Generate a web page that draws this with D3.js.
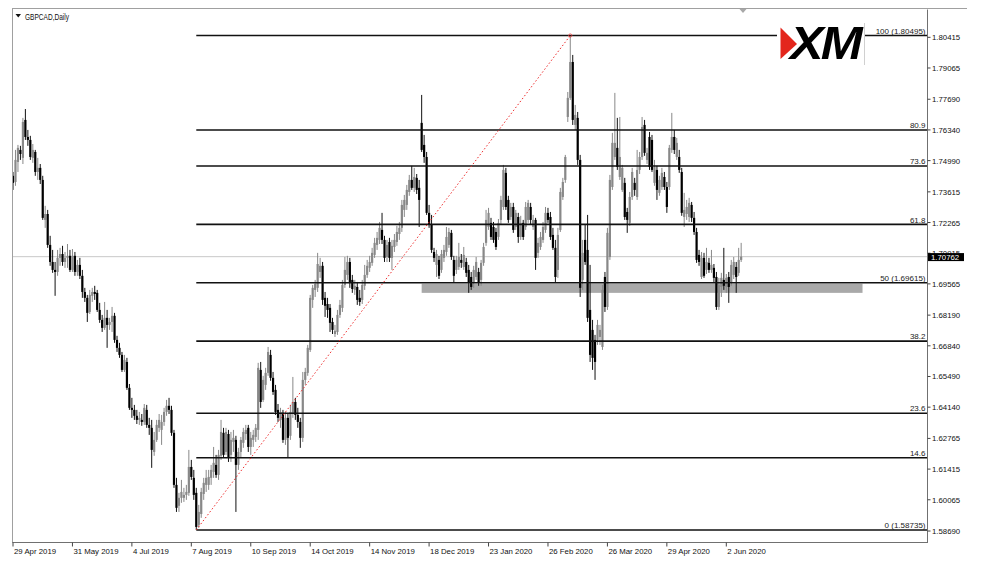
<!DOCTYPE html>
<html><head><meta charset="utf-8">
<script src="https://cdn.jsdelivr.net/npm/d3@7"></script>
<style>
html,body{margin:0;padding:0;background:#fff;}
svg{display:block;}
text{font-family:"Liberation Sans",Arial,sans-serif;}
</style></head><body>
<svg id="c" width="981" height="566"></svg>
<script>
// ---- DATA (GBPCAD daily, bar index 0 = 29 Apr 2019) ----
const opens=[1.7432,1.7405,1.7493,1.7546,1.7511,1.7678,1.7603,1.7590,1.7511,1.7537,1.7449,1.7467,1.7414,1.7238,1.7264,1.7128,1.7053,1.7018,1.7009,1.7071,1.7088,1.7053,1.7071,1.7080,1.7018,1.7080,1.7009,1.7040,1.6992,1.6921,
1.6895,1.6833,1.6904,1.6921,1.6917,1.6842,1.6798,1.6763,1.6807,1.6776,1.6789,1.6816,1.6710,1.6675,1.6644,1.6578,1.6613,1.6499,1.6411,1.6402,
1.6376,1.6358,1.6358,1.6349,1.6402,1.6336,1.6323,1.6217,1.6270,1.6323,1.6314,1.6349,1.6393,1.6420,1.6402,1.6301,1.6072,1.5980,1.6015,1.6015,
1.6028,1.6037,1.6151,1.6103,1.6037,1.5896,1.5944,1.6032,1.6072,1.6072,1.6103,1.6129,1.6160,1.6116,1.6200,1.6301,1.6217,1.6296,1.6204,1.6261,
1.6270,1.6160,1.6217,1.6257,1.6296,1.6323,1.6239,1.6270,1.6283,1.6314,1.6578,1.6446,1.6512,1.6565,1.6644,1.6543,1.6490,1.6402,1.6358,1.6389,
1.6270,1.6367,1.6288,1.6384,1.6437,1.6380,1.6349,1.6279,1.6534,1.6565,1.6666,1.6886,1.6930,1.6939,1.7009,1.7036,1.6895,1.6868,1.6851,1.6789,
1.6736,1.6745,1.6820,1.6851,1.6952,1.6996,1.7053,1.6974,1.6930,1.6943,1.6895,1.6886,1.6948,1.6996,1.7027,1.7049,1.7084,1.7128,1.7150,1.7194,
1.7150,1.7075,1.7141,1.7071,1.7119,1.7141,1.7176,1.7203,1.7282,1.7304,1.7361,1.7414,1.7379,1.7423,1.7379,1.7665,1.7568,1.7515,1.7269,1.7216,
1.7097,1.7040,1.7062,1.7018,1.7071,1.7097,1.7128,1.7181,1.7062,1.7018,1.7031,1.7062,1.7031,1.7053,1.7018,1.6987,1.6961,1.6987,1.7009,1.6974,
1.7049,1.7137,1.7207,1.7225,1.7207,1.7185,1.7163,1.7238,1.7295,1.7445,1.7326,1.7251,1.7295,1.7207,1.7251,1.7163,1.7225,1.7207,1.7238,1.7295,
1.7207,1.7238,1.7093,1.7119,1.7150,1.7194,1.7269,1.7251,1.7172,1.7115,1.7018,1.7194,1.7339,1.7414,1.7691,1.7775,1.7933,1.7656,1.7687,1.7502,
1.6974,1.7150,1.7106,1.6842,1.6754,1.6710,1.6710,1.6723,1.6679,1.6987,1.6855,1.7075,1.7383,1.7515,1.7555,1.7427,1.7370,1.7401,1.7273,1.7225,
1.7339,1.7401,1.7339,1.7458,1.7515,1.7656,1.7502,1.7603,1.7590,1.7401,1.7458,1.7357,1.7383,1.7427,1.7383,1.7383,1.7546,1.7603,1.7515,1.7515,
1.7449,1.7251,1.7264,1.7251,1.7304,1.7247,1.7185,1.7084,1.6987,1.7071,1.7018,1.7049,1.7018,1.7027,1.6987,1.6855,1.6943,1.6974,1.6943,1.6987,
1.6961,1.6996,1.7031,1.7005,1.7062];
const highs=[1.7449,1.7546,1.7568,1.7564,1.7687,1.7726,1.7634,1.7608,1.7572,1.7546,1.7511,1.7484,1.7432,1.7300,1.7282,1.7168,1.7106,1.7053,1.7106,1.7115,1.7124,1.7097,1.7132,1.7106,1.7110,1.7097,1.7062,1.7071,1.7018,1.6939,
1.6908,1.6930,1.6939,1.6948,1.6930,1.6873,1.6820,1.6877,1.6842,1.6807,1.6855,1.6829,1.6728,1.6697,1.6657,1.6644,1.6631,1.6516,1.6455,1.6424,
1.6402,1.6393,1.6384,1.6428,1.6424,1.6367,1.6358,1.6305,1.6358,1.6384,1.6380,1.6411,1.6446,1.6455,1.6420,1.6314,1.6103,1.6037,1.6094,1.6059,
1.6072,1.6226,1.6182,1.6138,1.6059,1.5984,1.6059,1.6103,1.6138,1.6138,1.6160,1.6239,1.6204,1.6226,1.6358,1.6323,1.6323,1.6314,1.6305,1.6314,
1.6288,1.6235,1.6283,1.6323,1.6336,1.6336,1.6305,1.6314,1.6340,1.6609,1.6613,1.6552,1.6587,1.6679,1.6666,1.6569,1.6512,1.6428,1.6411,1.6402,
1.6393,1.6384,1.6424,1.6547,1.6455,1.6411,1.6367,1.6569,1.6587,1.6688,1.6908,1.6952,1.6974,1.7093,1.7071,1.7053,1.6921,1.6895,1.6868,1.6807,
1.6776,1.6842,1.6886,1.6974,1.7075,1.7080,1.7071,1.6996,1.6974,1.6965,1.6930,1.6974,1.7040,1.7062,1.7080,1.7115,1.7159,1.7185,1.7229,1.7269,
1.7168,1.7150,1.7159,1.7150,1.7176,1.7212,1.7229,1.7326,1.7348,1.7392,1.7436,1.7476,1.7467,1.7440,1.7414,1.7788,1.7612,1.7537,1.7304,1.7260,
1.7115,1.7106,1.7080,1.7106,1.7128,1.7207,1.7203,1.7194,1.7080,1.7080,1.7137,1.7088,1.7119,1.7071,1.7040,1.7009,1.7036,1.7075,1.7027,1.7062,
1.7137,1.7282,1.7291,1.7247,1.7229,1.7203,1.7242,1.7344,1.7480,1.7467,1.7344,1.7313,1.7313,1.7282,1.7269,1.7256,1.7238,1.7317,1.7326,1.7313,
1.7260,1.7247,1.7159,1.7185,1.7229,1.7295,1.7291,1.7273,1.7203,1.7150,1.7203,1.7379,1.7423,1.7524,1.7801,1.80495,1.7964,1.7744,1.7713,1.7524,
1.7150,1.7216,1.7260,1.7040,1.6798,1.6732,1.6798,1.6776,1.6952,1.7009,1.7203,1.7436,1.7621,1.7797,1.7687,1.7691,1.7480,1.7423,1.7291,1.7361,
1.7467,1.7423,1.7546,1.7537,1.7691,1.7678,1.7555,1.7625,1.7612,1.7502,1.7476,1.7432,1.7467,1.7449,1.7405,1.7568,1.7709,1.7634,1.7599,1.7546,
1.7467,1.7357,1.7326,1.7335,1.7317,1.7273,1.7203,1.7106,1.7097,1.7093,1.7115,1.7071,1.7106,1.7044,1.7009,1.6983,1.7005,1.7115,1.7000,1.7009,
1.7062,1.7075,1.7053,1.7115,1.7137];
const lows=[1.7370,1.7388,1.7449,1.7502,1.7484,1.7590,1.7564,1.7502,1.7489,1.7432,1.7414,1.7396,1.7238,1.7203,1.7115,1.7036,1.7005,1.6904,1.6992,1.7036,1.7036,1.7027,1.7027,1.7009,1.7009,1.6992,1.6992,1.6978,1.6895,1.6877,
1.6789,1.6824,1.6877,1.6886,1.6833,1.6785,1.6745,1.6754,1.6675,1.6754,1.6745,1.6697,1.6657,1.6631,1.6569,1.6569,1.6490,1.6402,1.6367,1.6358,
1.6340,1.6336,1.6332,1.6336,1.6323,1.6292,1.6147,1.6200,1.6261,1.6305,1.6248,1.6332,1.6376,1.6384,1.6288,1.6059,1.5953,1.5953,1.5993,1.5997,
1.6006,1.6024,1.6094,1.6006,1.58735,1.5883,1.5927,1.6006,1.6041,1.6050,1.6072,1.6103,1.6103,1.6094,1.6182,1.6191,1.6204,1.6173,1.6173,1.6217,
1.5953,1.6138,1.6191,1.6235,1.6270,1.6217,1.6204,1.6239,1.6261,1.6270,1.6411,1.6437,1.6490,1.6552,1.6530,1.6468,1.6380,1.6349,1.6323,1.6257,
1.6248,1.6191,1.6270,1.6367,1.6358,1.6323,1.6235,1.6261,1.6512,1.6552,1.6657,1.6851,1.6899,1.6921,1.6983,1.6864,1.6811,1.6807,1.6745,1.6736,
1.6723,1.6732,1.6807,1.6833,1.6939,1.6974,1.6939,1.6917,1.6908,1.6864,1.6860,1.6868,1.6930,1.6983,1.7009,1.7036,1.7071,1.7106,1.7132,1.7132,
1.7053,1.7053,1.7053,1.7018,1.7097,1.7124,1.7150,1.7185,1.7251,1.7282,1.7344,1.7370,1.7361,1.7352,1.7207,1.7537,1.7489,1.7260,1.7203,1.7093,
1.7053,1.6987,1.6978,1.7005,1.7053,1.7080,1.7115,1.7062,1.6961,1.7000,1.7018,1.7027,1.7018,1.6987,1.6917,1.6930,1.6939,1.6974,1.6948,1.6948,
1.7036,1.7124,1.7194,1.7150,1.7137,1.7106,1.7150,1.7220,1.7282,1.7282,1.7225,1.7238,1.7181,1.7194,1.7137,1.7150,1.7150,1.7194,1.7225,1.7220,
1.7194,1.7018,1.7071,1.7106,1.7137,1.7181,1.7225,1.7150,1.7106,1.6965,1.6983,1.7185,1.7326,1.7401,1.7669,1.7766,1.7656,1.7634,1.7480,1.6899,
1.6930,1.7040,1.6789,1.6613,1.6578,1.6534,1.6688,1.6688,1.6666,1.6833,1.6842,1.7062,1.7370,1.7502,1.7458,1.7414,1.7361,1.7238,1.7181,1.7212,
1.7326,1.7344,1.7326,1.7440,1.7502,1.7520,1.7484,1.7458,1.7449,1.7388,1.7326,1.7344,1.7370,1.7370,1.7269,1.7370,1.7533,1.7528,1.7502,1.7445,
1.7256,1.7207,1.7238,1.7229,1.7229,1.7172,1.7049,1.7036,1.6978,1.6983,1.7000,1.7005,1.7005,1.6965,1.6842,1.6842,1.6899,1.6930,1.6917,1.6873,
1.6948,1.6978,1.6917,1.6992,1.7053];
const closes=[1.7401,1.7502,1.7555,1.7528,1.7669,1.7603,1.7590,1.7515,1.7546,1.7449,1.7467,1.7414,1.7247,1.7264,1.7128,1.7053,1.7018,1.7009,1.7071,1.7088,1.7053,1.7071,1.7080,1.7018,1.7080,1.7009,1.7040,1.6992,1.6921,1.6895,
1.6829,1.6908,1.6921,1.6912,1.6842,1.6798,1.6763,1.6807,1.6776,1.6789,1.6816,1.6710,1.6675,1.6644,1.6578,1.6622,1.6499,1.6411,1.6402,1.6376,
1.6358,1.6367,1.6349,1.6411,1.6336,1.6323,1.6226,1.6270,1.6336,1.6358,1.6349,1.6393,1.6420,1.6402,1.6301,1.6072,1.5971,1.6015,1.6041,1.6028,
1.6041,1.6151,1.6107,1.6028,1.5887,1.5953,1.6041,1.6081,1.6103,1.6107,1.6138,1.6169,1.6116,1.6204,1.6305,1.6204,1.6305,1.6191,1.6270,1.6279,
1.6160,1.6217,1.6270,1.6305,1.6314,1.6239,1.6279,1.6292,1.6323,1.6587,1.6437,1.6534,1.6565,1.6657,1.6543,1.6481,1.6393,1.6367,1.6393,1.6270,
1.6367,1.6279,1.6393,1.6437,1.6380,1.6349,1.6279,1.6534,1.6569,1.6675,1.6895,1.6939,1.6956,1.7044,1.7036,1.6886,1.6860,1.6842,1.6785,1.6754,
1.6750,1.6820,1.6864,1.6952,1.7018,1.7053,1.6965,1.6934,1.6948,1.6886,1.6877,1.6952,1.6996,1.7036,1.7053,1.7093,1.7137,1.7159,1.7203,1.7150,
1.7071,1.7128,1.7071,1.7124,1.7150,1.7185,1.7203,1.7304,1.7326,1.7370,1.7414,1.7379,1.7427,1.7370,1.7326,1.7546,1.7515,1.7269,1.7216,1.7106,
1.7071,1.7088,1.6992,1.7088,1.7106,1.7163,1.7185,1.7075,1.6992,1.7062,1.7075,1.7049,1.7084,1.7005,1.6961,1.6943,1.7018,1.7053,1.6961,1.7049,
1.7119,1.7238,1.7269,1.7163,1.7150,1.7119,1.7225,1.7326,1.7458,1.7295,1.7238,1.7295,1.7194,1.7269,1.7163,1.7225,1.7163,1.7295,1.7313,1.7238,
1.7238,1.7071,1.7137,1.7163,1.7207,1.7269,1.7238,1.7163,1.7115,1.6987,1.7172,1.7361,1.7405,1.7515,1.7775,1.7933,1.7678,1.7700,1.7502,1.6939,
1.7093,1.7053,1.6807,1.6644,1.6631,1.6613,1.6776,1.6754,1.6930,1.6855,1.7181,1.7414,1.7577,1.7577,1.7471,1.7515,1.7467,1.7251,1.7238,1.7339,
1.7449,1.7370,1.7458,1.7515,1.7647,1.7533,1.7533,1.7471,1.7458,1.7471,1.7370,1.7414,1.7445,1.7383,1.7295,1.7555,1.7603,1.7546,1.7577,1.7458,
1.7269,1.7282,1.7295,1.7313,1.7247,1.7185,1.7062,1.7053,1.7071,1.6992,1.7053,1.7018,1.7040,1.6983,1.6855,1.6952,1.6983,1.6948,1.6983,1.6943,
1.7040,1.7053,1.6987,1.7062,1.70762];
const xTickBars=[0,24,48,72,96,120,144,168,192,216,240,264,288];
const xTickLabels=["29 Apr 2019","31 May 2019","4 Jul 2019","7 Aug 2019","10 Sep 2019","14 Oct 2019","14 Nov 2019","18 Dec 2019","23 Jan 2020","26 Feb 2020","26 Mar 2020","29 Apr 2020","2 Jun 2020"];
const yTickValues=[1.80415,1.79065,1.77690,1.76340,1.74990,1.73615,1.72265,1.70915,1.69565,1.68190,1.66840,1.65490,1.64140,1.62765,1.61415,1.60065,1.58690];
const fibLevels=[0,14.6,23.6,38.2,50,61.8,73.6,80.9,100];
const fibLowBar=74, fibHighBar=225, fibLow=1.58735, fibHigh=1.80495;
const zoneBars=[165,343], zonePrices=[1.6957,1.6917];
const lastPrice=1.70762;
const symbolTitle="GBPCAD,Daily";

// ---- LAYOUT ----
const L=12.5,R=927.5,T=8.5,B=542.5;
const svg=d3.select("#c");
const x=d3.scaleLinear().domain([0,288]).range([13,726.3]);
const y=d3.scaleLinear().domain([fibLow,fibHigh]).range([530,35.5]);
const fmt5=d3.format(".5f");

svg.append("defs").append("clipPath").attr("id","plot").append("rect")
  .attr("x",L+0.5).attr("y",T+0.5).attr("width",R-L-1).attr("height",B-T-1);
const g=svg.append("g").attr("clip-path","url(#plot)");

// current price line
g.append("line").attr("x1",L).attr("x2",R).attr("y1",y(lastPrice)).attr("y2",y(lastPrice))
  .attr("stroke","#c8c8c8").attr("stroke-width",1);

// zone rectangle
g.append("rect").attr("x",x(zoneBars[0])).attr("width",x(zoneBars[1])-x(zoneBars[0]))
  .attr("y",y(zonePrices[0])).attr("height",y(zonePrices[1])-y(zonePrices[0]))
  .attr("fill","#a9a9a9");

// candles
const bars=d3.range(closes.length).map(i=>({i,o:opens[i],h:highs[i],l:lows[i],c:closes[i]}));
const cg=g.append("g");
cg.selectAll("line.w").data(bars).join("line").attr("class","w")
  .attr("x1",d=>x(d.i)).attr("x2",d=>x(d.i)).attr("y1",d=>y(d.h)).attr("y2",d=>y(d.l))
  .attr("stroke",d=>d.c>=d.o?"#888":"#111").attr("stroke-width",1);
cg.selectAll("rect.b").data(bars).join("rect").attr("class","b")
  .attr("x",d=>x(d.i)-1.1).attr("width",2.2)
  .attr("y",d=>y(Math.max(d.o,d.c)))
  .attr("height",d=>Math.max(1,Math.abs(y(d.o)-y(d.c))))
  .attr("fill",d=>d.c>=d.o?"#888":"#000");

// fibo levels
const fibPrice=lv=>fibLow+(fibHigh-fibLow)*lv/100;
g.selectAll("line.fib").data(fibLevels).join("line").attr("class","fib")
  .attr("x1",x(fibLowBar)).attr("x2",R).attr("y1",d=>y(fibPrice(d))).attr("y2",d=>y(fibPrice(d)))
  .attr("stroke","#111").attr("stroke-width",1.6);
g.selectAll("text.fib").data(fibLevels).join("text").attr("class","fib")
  .attr("x",925.5).attr("y",d=>y(fibPrice(d))-1.8).attr("text-anchor","end")
  .attr("font-size","8px").attr("fill","#222")
  .text(d=>(d===0||d===50||d===100)?`${d} (${fmt5(fibPrice(d))})`:d.toFixed(1));

// trend (dotted) line
g.append("line").attr("x1",x(fibLowBar)).attr("y1",y(fibLow)).attr("x2",x(fibHighBar)).attr("y2",y(fibHigh))
  .attr("stroke","#ee2a2a").attr("stroke-width",1).attr("stroke-dasharray","1.5,2.2");
g.append("circle").attr("cx",x(fibHighBar)).attr("cy",y(fibHigh)).attr("r",1.6)
  .attr("fill","none").attr("stroke","#ee4444").attr("stroke-width",0.8);

// logo
const lg=svg.append("g");
lg.append("rect").attr("x",777).attr("y",22).attr("width",87.5).attr("height",43).attr("fill","#fff");
lg.append("line").attr("x1",864.5).attr("x2",864.5).attr("y1",23).attr("y2",65).attr("stroke","#d0d0d0");
lg.append("polygon").attr("points","780.5,27.5 797,44 780.5,59").attr("fill","#e3261c");
lg.append("text").attr("x",790).attr("y",59).attr("font-size","46px").attr("font-weight","900")
  .attr("font-style","italic").attr("letter-spacing","-2.5").attr("fill","#000")
  .attr("textLength",70).attr("lengthAdjust","spacingAndGlyphs").text("XM");

// frame
svg.append("line").attr("x1",12).attr("x2",967).attr("y1",T).attr("y2",T).attr("stroke","#a0a0a0");
svg.append("line").attr("x1",L).attr("x2",L).attr("y1",T).attr("y2",B+0.5).attr("stroke","#a0a0a0");
svg.append("line").attr("x1",R).attr("x2",R).attr("y1",T+1).attr("y2",B+0.5).attr("stroke","#707070");
svg.append("line").attr("x1",L).attr("x2",R).attr("y1",B).attr("y2",B).attr("stroke","#707070");

// right axis
const ra=svg.append("g");
ra.selectAll("line").data(yTickValues).join("line")
  .attr("x1",R).attr("x2",R+3).attr("y1",d=>y(d)).attr("y2",d=>y(d)).attr("stroke","#444");
ra.selectAll("text").data(yTickValues).join("text")
  .attr("x",932).attr("y",d=>y(d)+3).attr("font-size","7.8px").attr("fill","#111").text(d=>fmt5(d));
svg.append("rect").attr("x",928).attr("y",y(lastPrice)-3.6).attr("width",36).attr("height",8).attr("fill","#000");
svg.append("text").attr("x",931).attr("y",y(lastPrice)+3.2).attr("font-size","7.8px").attr("fill","#fff").text(fmt5(lastPrice));

// bottom axis
const ba=svg.append("g");
ba.selectAll("line").data(xTickBars).join("line")
  .attr("x1",d=>x(d)).attr("x2",d=>x(d)).attr("y1",B).attr("y2",B+4).attr("stroke","#444");
ba.selectAll("text").data(xTickBars).join("text")
  .attr("x",d=>x(d)+1).attr("y",553.5).attr("font-size","7.8px").attr("fill","#111")
  .text((d,k)=>xTickLabels[k]);

// header
svg.append("polygon").attr("points","15.5,14 21,14 18.25,17.5").attr("fill","#111");
svg.append("text").attr("x",25).attr("y",19.5).attr("font-size","8.4px").attr("fill","#111")
  .attr("textLength",44).attr("lengthAdjust","spacingAndGlyphs").text(symbolTitle);
// chart shift marker
svg.append("polygon").attr("points","739.5,9 746.5,9 743,13").attr("fill","#a8a8a8");
</script>
</body></html>
